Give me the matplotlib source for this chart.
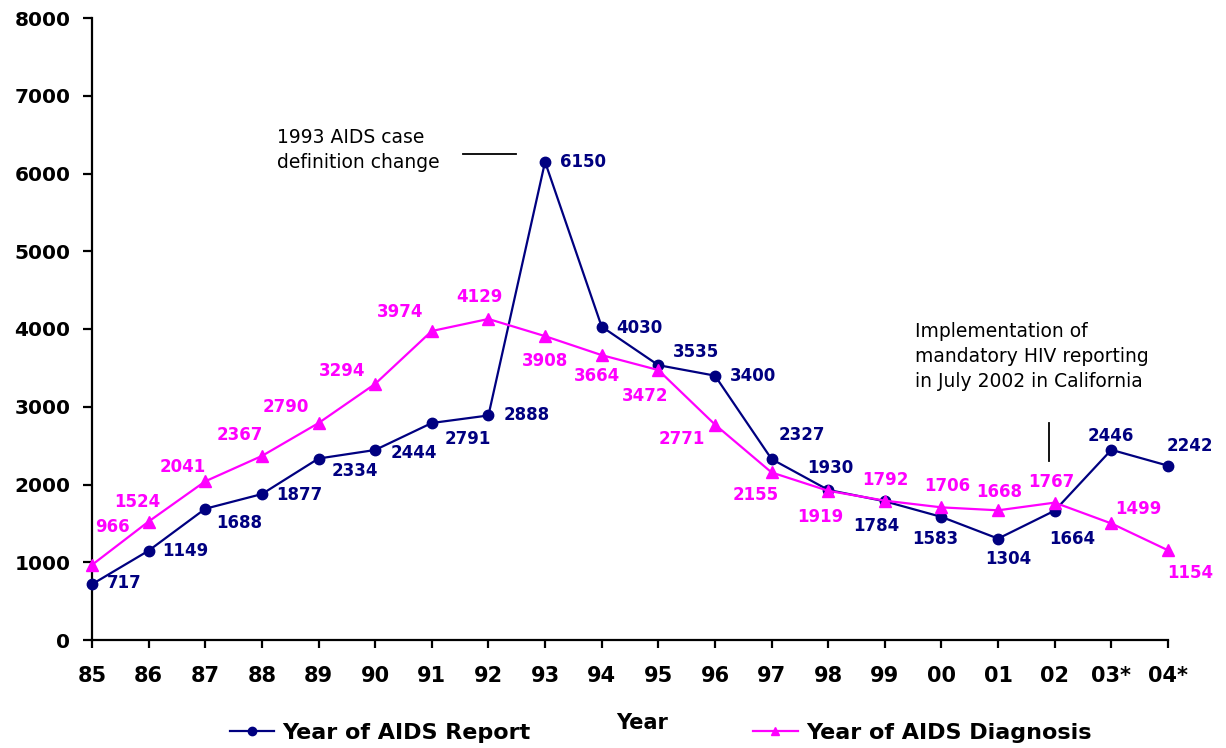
import matplotlib
matplotlib.use("Agg")
import matplotlib.pyplot as plt
import numpy as np

years = ["85", "86", "87", "88", "89", "90", "91", "92", "93", "94",
         "95", "96", "97", "98", "99", "00", "01", "02", "03*", "04*"]
report = [717, 1149, 1688, 1877, 2334, 2444, 2791, 2888, 6150, 4030,
          3535, 3400, 2327, 1930, 1784, 1583, 1304, 1664, 2446, 2242]
diagnosis = [966, 1524, 2041, 2367, 2790, 3294, 3974, 4129, 3908, 3664,
             3472, 2771, 2155, 1919, 1792, 1706, 1668, 1767, 1499, 1154]
yticks = [0, 1000, 2000, 3000, 4000, 5000, 6000, 7000, 8000]

# label offsets in pixels (dx, dy) relative to the marker (layout only)
report_off = [(32, 1), (37, 0), (34, -14), (37, -1), (36, -12), (39, -3), (36, -16),
              (38, 0), (38, 0), (38, -1), (38, 13), (38, 0), (30, 24), (2, 22),
              (-9, -25), (-6, -22), (10, -20), (18, -28), (-1, 14), (22, 20)]
diag_off = [(20, 38), (-11, 20), (-23, 14), (-22, 21), (-33, 16), (-33, 13), (-32, 19),
            (-9, 22), (0, -25), (-5, -21), (-13, -26), (-33, -14), (-16, -23), (-8, -26),
            (1, 21), (6, 21), (1, 18), (-3, 21), (27, 14), (22, -23)]

NAVY = "#000080"
MAG = "#FF00FF"

plt.rcParams['font.family'] = ['DejaVu Sans']

fig = plt.figure(figsize=(12.26, 7.48), dpi=100)
ax = fig.add_axes([92/1226, 1-640/748, (1168-92)/1226, (640-18)/748])

x = np.arange(len(years))
ax.plot(x, report, color=NAVY, lw=1.6, marker='o', ms=7.5, label="Year of AIDS Report", clip_on=False, zorder=3)
ax.plot(x, diagnosis, color=MAG, lw=1.6, marker='^', ms=8.5, label="Year of AIDS Diagnosis", clip_on=False, zorder=3)

for xi, v, (dx, dy) in zip(x, report, report_off):
    ax.annotate(str(v), (xi, v), xytext=(dx, dy), textcoords='offset pixels',
                ha='center', va='center', color=NAVY, fontsize=12, fontweight='bold')
for xi, v, (dx, dy) in zip(x, diagnosis, diag_off):
    ax.annotate(str(v), (xi, v), xytext=(dx, dy), textcoords='offset pixels',
                ha='center', va='center', color=MAG, fontsize=12, fontweight='bold')

ax.set_xlim(0, len(years) - 1)
ax.set_ylim(0, 8000)
ax.set_xticks(x)
ax.set_xticklabels(years)
ax.set_yticks(yticks)
ax.set_yticklabels([str(t) for t in yticks])
for s in ['top', 'right']:
    ax.spines[s].set_visible(False)
for s in ['left', 'bottom']:
    ax.spines[s].set_linewidth(1.6)
ax.tick_params(axis='y', length=6.5, width=1.6, pad=9, labelsize=14.5)
ax.tick_params(axis='x', length=6, width=1.6, pad=13, labelsize=15)
for lab in ax.get_xticklabels() + ax.get_yticklabels():
    lab.set_fontweight('bold')

# annotations
ax.text(3.27, 6296, "1993 AIDS case\ndefinition change", ha='left', va='center',
        fontsize=13.5, linespacing=1.4)
ax.plot([6.55, 7.49], [6251, 6251], color='black', lw=1.3)
ax.text(14.54, 3640, "Implementation of\nmandatory HIV reporting\nin July 2002 in California",
        ha='left', va='center', fontsize=13.5, linespacing=1.4)
ax.plot([16.89, 16.89], [2302, 2791], color='black', lw=1.3)

fig.text(642/1226, 1-723/748, "Year", ha='center', va='center', fontsize=15, fontweight='bold')

leg = fig.legend(loc='center left', bbox_to_anchor=(230/1226, 1-733/748), ncol=2,
                 frameon=False, borderpad=0, borderaxespad=0, handlelength=2.0,
                 handletextpad=0.37, columnspacing=10.0,
                 prop={'size': 16, 'weight': 'bold'})
for lh in leg.legend_handles:
    lh.set_markersize(6)

fig.savefig("out.png", dpi=100)
